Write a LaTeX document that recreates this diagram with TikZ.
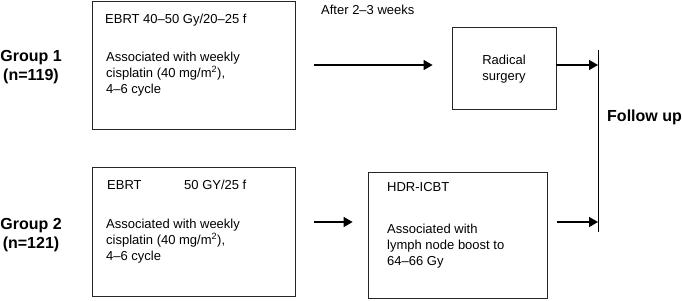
\documentclass[tikz,border=0pt]{standalone}
\usepackage{fontspec}
\setmainfont{Liberation Sans}
\usetikzlibrary{calc, positioning, arrows.meta}

\begin{document}
\begin{tikzpicture}[
  x=1pt, y=-1pt,
  stage/.style={draw=black!85, line width=0.8pt, inner sep=0pt},
  body/.style={anchor=base west, inner sep=0pt, align=left,
               font=\fontsize{13}{16}\selectfont},
  group/.style={anchor=base, inner sep=0pt, align=center,
                font=\fontsize{16}{19}\selectfont\bfseries},
  flow/.style={line width=1.4pt, -{Triangle[length=9pt,width=10pt]}},
]
\useasboundingbox (0,0) rectangle (682,300);

% treatment boxes
\node[stage, minimum width=203pt, minimum height=128pt] (ebrtA) at (193.5,65) {};
\node[stage, minimum width=104pt, minimum height=82pt] (surgery) at (504,68) {};
\node[stage, minimum width=203pt, minimum height=129pt] (ebrtB) at (193.5,231.5) {};
\node[stage, minimum width=179pt, minimum height=126pt] (hdr) at (457.5,235) {};

% group labels (base = last line)
\node[group] (g1) at (31,80.5) {Group 1\\(n=119)};
\node[group] (g2) at (31,248.5) {Group 2\\(n=121)};

% box texts
\node[body] (ebrtAdose) at (105,23) {EBRT 40–50 Gy/20–25 f};
\node[body] (ebrtAchemo) at (106,93) {Associated with weekly\\cisplatin (40 mg/m\textsuperscript{2}),\\4–6 cycle};
\node[body] (ebrtBname) at (107,189.5) {EBRT};
\node[body] (ebrtBdose) at (184,189.5) {50 GY/25 f};
\node[body] (ebrtBchemo) at (106,260) {Associated with weekly\\cisplatin (40 mg/m\textsuperscript{2}),\\4–6 cycle};
\node[body] (hdrname) at (387,191.5) {HDR-ICBT};
\node[body] (hdrboost) at (387,265.5) {Associated with\\lymph node boost to\\64–66 Gy};
\node[body, anchor=base, align=center] (surgtxt) at (504,80) {Radical\\surgery};
\node[body] (wait) at (321,14.5) {After 2–3 weeks};

% follow up
\coordinate (fuTop) at (598,50);
\coordinate (fuBot) at (598,232);
\draw[line width=0.8pt] (fuTop) -- (fuBot);
\node[group, anchor=base west] (fu) at (607,121.5) {Follow up};

% arrows
\draw[flow, shorten <=19pt, shorten >=19pt] (ebrtA.east) -- (ebrtA.east -| surgery.west);
\draw[flow] (surgery.east |- ebrtA.east) -- (ebrtA.east -| fuTop);
\coordinate (a2) at (314,222);
\draw[flow, shorten >=15pt] (a2) -- (a2 -| hdr.west);
\draw[flow, shorten <=10pt] (hdr.east |- a2) -- (a2 -| fuTop);
\end{tikzpicture}
\end{document}
